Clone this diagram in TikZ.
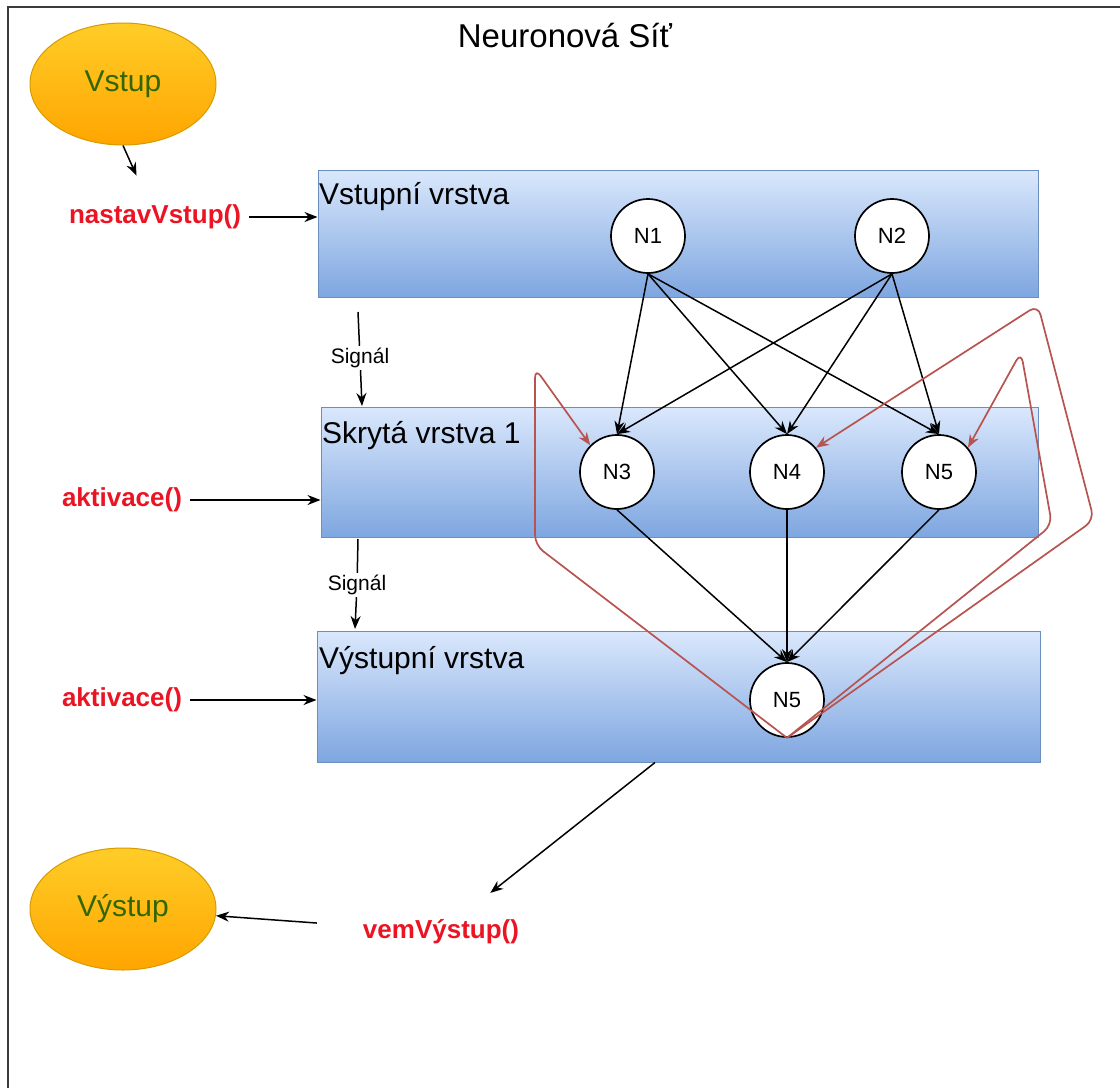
\documentclass[tikz,border=0pt]{standalone}
\usepackage{fontspec}
\setmainfont{Liberation Sans}
\usetikzlibrary{arrows.meta,shapes.geometric}

\definecolor{layerTop}{RGB}{218,232,252}
\definecolor{layerBot}{RGB}{126,166,224}
\definecolor{layerLine}{RGB}{108,142,191}
\definecolor{ioTop}{RGB}{255,205,40}
\definecolor{ioBot}{RGB}{255,165,0}
\definecolor{ioLine}{RGB}{215,155,0}
\definecolor{ioText}{RGB}{51,102,0}
\definecolor{callRed}{RGB}{235,20,35}
\definecolor{loopRed}{RGB}{184,84,80}
\definecolor{frameGray}{RGB}{60,60,60}

\begin{document}
\begin{tikzpicture}[x=1pt,y=-1pt,
  layer/.style={rectangle, draw=layerLine, line width=1pt,
    top color=layerTop, bottom color=layerBot, inner sep=0pt},
  layername/.style={anchor=base west, inner sep=0pt,
    font=\fontsize{30}{36}\selectfont},
  neuron/.style={circle, draw, line width=1.7pt, fill=white,
    minimum size=74pt, inner sep=0pt, font=\fontsize{22}{26}\selectfont},
  io/.style={ellipse, draw=ioLine, line width=1pt, top color=ioTop,
    bottom color=ioBot, minimum width=186pt, minimum height=122pt,
    inner sep=0pt, text=ioText, font=\fontsize{30}{36}\selectfont},
  call/.style={text=callRed, inner sep=8pt,
    font=\bfseries\fontsize{26}{31}\selectfont},
  sig/.style={inner sep=2pt, font=\fontsize{21}{25}\selectfont},
  link/.style={-{Stealth[length=13pt,width=10pt]}, line width=1.5pt},
  feedback/.style={-{Stealth[length=13pt,width=10pt]}, draw=loopRed,
    line width=1.7pt, rounded corners=10pt}
]
\useasboundingbox (0,0) rectangle (1120,1088);
\fill[white] (0,0) rectangle (1120,1088);

% outer frame (top and left edges)
\draw[frameGray, line width=2.5pt] (8,1088) -- (8,7) -- (1120,7);

% title
\node[anchor=base, inner sep=0pt, font=\fontsize{33}{39}\selectfont]
  (title) at (565,47) {Neuronová Síť};

% layers
\node[layer, minimum width=720pt, minimum height=127pt] (inL)  at (678,233.5) {};
\node[layer, minimum width=717pt, minimum height=130pt] (hidL) at (679.5,472) {};
\node[layer, minimum width=723pt, minimum height=131pt] (outL) at (678.5,696.5) {};

\node[layername] (inName)  at (319,204) {Vstupní vrstva};
\node[layername] (hidName) at (322,443) {Skrytá vrstva 1};
\node[layername] (outName) at (319,668) {Výstupní vrstva};

% neurons
\node[neuron] (n1) at (648,236) {N1};
\node[neuron] (n2) at (892,236) {N2};
\node[neuron] (n3) at (617,472) {N3};
\node[neuron] (n4) at (787,472) {N4};
\node[neuron] (n5) at (939,472) {N5};
\node[neuron] (o5) at (787,700) {N5};

% forward connections
\foreach \s in {n1,n2}
  \foreach \t in {n3,n4,n5}
    \draw[link] (\s.south) -- (\t.north);
\foreach \s in {n3,n4,n5}
  \draw[link] (\s.south) -- (o5.north);

% recurrent feedback from the output neuron
\draw[feedback] (o5.south) -- (535,545) -- (535,368) -- (n3.135);
\draw[feedback] (o5.south) -- (1094,520) -- (1038,305) -- (n4.40);
\draw[feedback] (o5.south) -- (1052,525) -- (1021,352) -- (n5.40);

% input / output terminals
\node[io] (vstup)  at (123,84)  {Vstup};
\node[io] (vystup) at (123,909) {Výstup};

% method calls
\node[call] (nast) at (155,217) {nastavVstup()};
\node[call] (act1) at (122,500) {aktivace()};
\node[call] (act2) at (122,700) {aktivace()};
\node[call] (vem)  at (441,932) {vemVýstup()};

\draw[link, shorten >=23pt] (vstup.south) -- (nast);
\draw[link] (nast) -- (nast -| inL.west);
\draw[link] (act1) -- (act1 -| hidL.west);
\draw[link] (act2) -- (act2 -| outL.west);
\draw[link, shorten >=30pt] ([xshift=-23.5pt]outL.south) -- (vem);
\draw[link, shorten <=38pt] (vem) -- (vystup);

% signal flow between layers
\coordinate (s1top) at (358,312);
\coordinate (s1end) at (362,406);
\node[sig] (sig1) at (360,358) {Signál};
\draw[line width=1.5pt] (s1top) -- (sig1);
\draw[link] (sig1) -- (s1end);

\coordinate (s2top) at (358,539);
\coordinate (s2end) at (355,629);
\node[sig] (sig2) at (357,585) {Signál};
\draw[line width=1.5pt] (s2top) -- (sig2);
\draw[link] (sig2) -- (s2end);
\end{tikzpicture}
\end{document}
